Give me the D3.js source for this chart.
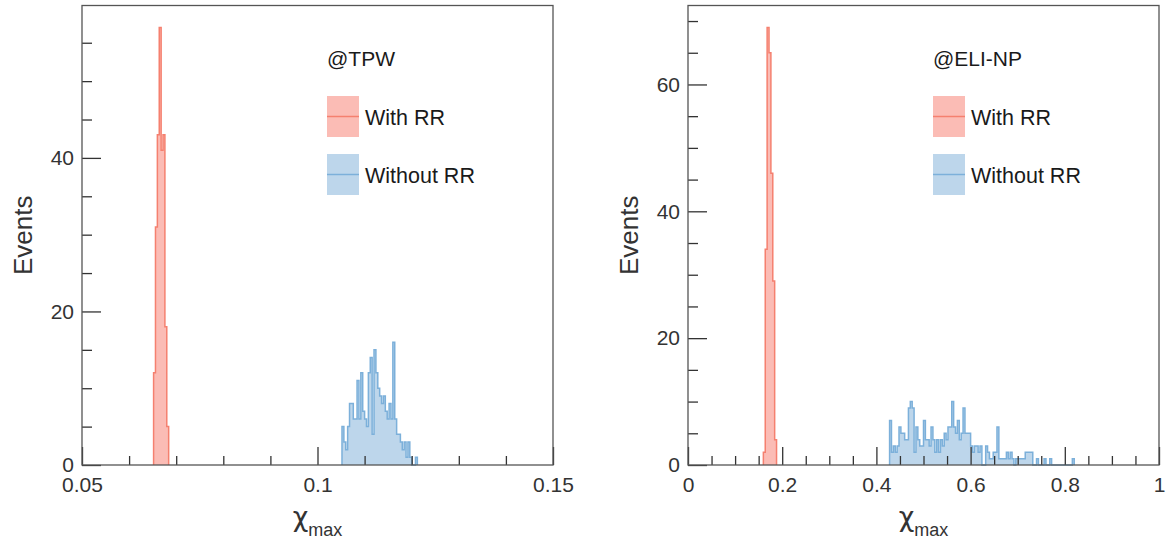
<!DOCTYPE html>
<html>
<head>
<meta charset="utf-8">
<style>
  body { margin: 0; background: #fff; }
  svg { font-family: "Liberation Sans", Arial, sans-serif; }
  .frame { fill: none; stroke: #555; stroke-width: 1.3; }
</style>
</head>
<body>
<script src="https://d3js.org/d3.v7.min.js"></script>
<div class="chart"></div>
<script>
// histogram data: 250 bins per panel, only the filled bins are listed
var nBins = 250;

var tpwRange = [0.05, 0.15];
var tpwMajorTicks = [0.05, 0.1, 0.15];
var tpwMinorTicks = [0.06, 0.07, 0.08, 0.09, 0.11, 0.12, 0.13, 0.14];
var tpwWithStart = 38;
var tpwWith = [12, 31, 43, 57, 41, 43, 18, 5];
var tpwWithoutStart = 138;
var tpwWithout = [5, 3, 2, 5, 8, 8, 6, 6, 11, 6, 12, 7, 6, 5, 12, 14, 4, 15, 12, 10,
                  9, 8, 9, 7, 6, 8, 6, 16, 6, 4, 4, 3, 2, 3, 1, 3, 1, 0, 0, 1];

var eliRange = [0, 1];
var eliMajorTicks = [0, 0.2, 0.4, 0.6, 0.8, 1];
var eliMinorTicks = [0.05, 0.1, 0.15, 0.25, 0.3, 0.35, 0.45, 0.5, 0.55, 0.65, 0.7, 0.75, 0.85, 0.9, 0.95];
var eliWithStart = 40;
var eliWith = [2, 34, 69, 65, 46, 29, 4];
var eliWithoutStart = 107;
var eliWithout = [7, 2, 3, 2, 3, 6, 5, 5, 4, 4, 9, 10, 9, 2, 6, 4, 3,
                  3, 7, 4, 4, 3, 6, 4, 2, 4, 2, 4, 3, 5, 4,
                  6, 6, 10, 6, 5, 7, 4, 5, 9, 5, 5, 5, 3, 2, 3, 3, 2, 3,
                  0, 0, 3, 2, 1, 1, 2, 2, 6, 1, 1, 1,
                  1, 2, 1, 2, 1, 0, 1, 1, 1, 1, 1, 2, 2, 2, 2, 0, 0, 1, 0, 0,
                  0, 1, 0, 0, 1, 0, 0, 0, 0, 0, 0, 0, 0, 0, 0, 0, 1];

var yMajorTicks = [0, 20, 40, 60];

var seriesNames = ["With RR", "Without RR"];
var fills = ["#fbbcb5", "#bdd6eb"];
var strokes = ["#f5806f", "#7cb0da"];

var width = 1170, height = 542,
    plotW = 471, plotH = 459.5, plotTop = 5.5;

var svg = d3.select(".chart").append("svg")
    .attr("width", width)
    .attr("height", height);

function drawPanel(p) {
    var g = svg.append("g")
        .attr("transform", "translate(" + p.left + "," + plotTop + ")");

    var yTop = d3.max(p.hists, function(h) { return d3.max(h.values); }) * 1.05;

    var x = d3.scaleLinear().domain(p.range).range([0, plotW]);
    var y = d3.scaleLinear().domain([0, yTop]).range([plotH, 0]);
    var binW = (p.range[1] - p.range[0]) / nBins;

    var area = d3.area()
        .curve(d3.curveStepAfter)
        .x(function(d) { return x(d[0]); })
        .y0(y(0))
        .y1(function(d) { return y(d[1]); });
    var line = d3.line()
        .curve(d3.curveStepAfter)
        .x(function(d) { return x(d[0]); })
        .y(function(d) { return y(d[1]); });

    p.hists.forEach(function(h, k) {
        var pts = h.values.map(function(v, i) { return [p.range[0] + (h.start + i) * binW, v]; });
        pts.unshift([pts[0][0], 0]);
        pts.push([p.range[0] + (h.start + h.values.length) * binW, 0]);
        g.append("path").datum(pts).attr("d", area).attr("fill", fills[k]);
        g.append("path").datum(pts).attr("d", line)
            .attr("fill", "none").attr("stroke", strokes[k]).attr("stroke-width", 1.5);
    });

    // ticks point inwards, long ones carry the labels
    var xMinor = g.append("g").attr("transform", "translate(0," + plotH + ")")
        .call(d3.axisBottom(x).tickValues(p.minorX).tickSize(-9).tickFormat(""));
    var xMajor = g.append("g").attr("transform", "translate(0," + plotH + ")")
        .call(d3.axisBottom(x).tickValues(p.majorX).tickSize(-18).tickPadding(12)
            .tickFormat(d3.format("~g")));

    var yMinorVals = d3.range(0, yTop, 5).filter(function(v) { return v % 20 !== 0; });
    var yMajorVals = yMajorTicks.filter(function(v) { return v <= yTop; });
    var yMinor = g.append("g")
        .call(d3.axisLeft(y).tickValues(yMinorVals).tickSize(-10).tickFormat(""));
    var yMajor = g.append("g")
        .call(d3.axisLeft(y).tickValues(yMajorVals).tickSize(-19).tickPadding(8)
            .tickFormat(d3.format("~g")));

    [xMinor, xMajor, yMinor, yMajor].forEach(function(a) {
        a.select(".domain").remove();
        a.attr("font-family", null).attr("font-size", 21);
        a.selectAll("line").attr("stroke", "#333").attr("stroke-width", 1.3);
        a.selectAll("text").attr("fill", "#333");
    });

    g.append("rect").attr("class", "frame")
        .attr("width", plotW).attr("height", plotH);

    g.append("text")
        .attr("transform", "translate(-50.5," + (plotH / 2) + ") rotate(-90)")
        .attr("text-anchor", "middle")
        .attr("font-size", 26)
        .attr("fill", "#333")
        .text("Events");

    var xl = g.append("text")
        .attr("x", plotW / 2)
        .attr("y", plotH + 61)
        .attr("text-anchor", "middle")
        .attr("fill", "#333")
        .attr("font-size", 27);
    xl.append("tspan").attr("font-family", "DejaVu Sans").text("χ");
    xl.append("tspan").attr("font-size", 18).attr("dy", 10).text("max");

    // legend
    g.append("text").attr("x", 245).attr("y", 60.2)
        .attr("font-size", 21).attr("fill", "#1a1a1a").text(p.title);

    seriesNames.forEach(function(name, k) {
        var ly = 90.5 + k * 58;
        g.append("rect").attr("x", 245).attr("y", ly).attr("width", 32).attr("height", 41)
            .attr("fill", fills[k]);
        g.append("line").attr("x1", 245).attr("x2", 277)
            .attr("y1", ly + 20.5).attr("y2", ly + 20.5)
            .attr("stroke", strokes[k]).attr("stroke-width", 1.5);
        g.append("text").attr("x", 283).attr("y", ly + 29)
            .attr("font-size", 21.5).attr("fill", "#1a1a1a").text(name);
    });
}

drawPanel({
    left: 82, title: "@TPW", range: tpwRange,
    majorX: tpwMajorTicks, minorX: tpwMinorTicks,
    hists: [{start: tpwWithStart, values: tpwWith}, {start: tpwWithoutStart, values: tpwWithout}]
});

drawPanel({
    left: 688, title: "@ELI-NP", range: eliRange,
    majorX: eliMajorTicks, minorX: eliMinorTicks,
    hists: [{start: eliWithStart, values: eliWith}, {start: eliWithoutStart, values: eliWithout}]
});
</script>
</body>
</html>
